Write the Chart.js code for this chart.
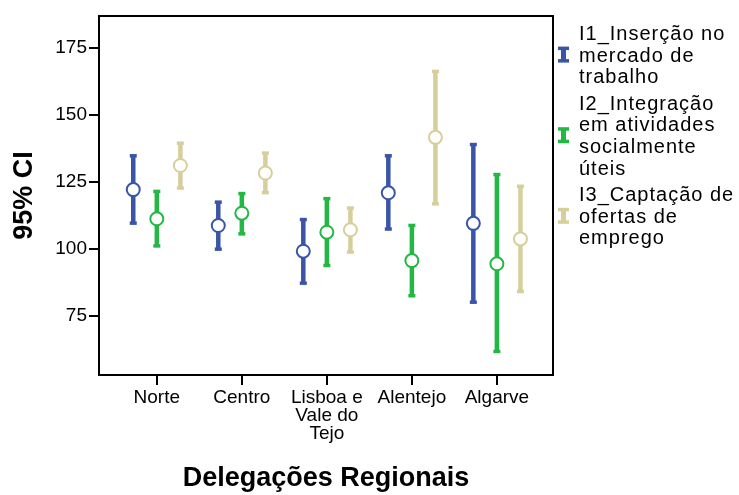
<!DOCTYPE html>
<html>
<head>
<meta charset="utf-8">
<script src="https://cdn.jsdelivr.net/npm/chart.js@4"></script>
<style>
  body { margin: 0; background: #fff; }
</style>
</head>
<body>
<canvas id="ciChart" width="739" height="495"></canvas>
<script>
const regions = ["Norte", "Centro", ["Lisboa e", "Vale do", "Tejo"], "Alentejo", "Algarve"];
const yTicks = [75, 100, 125, 150, 175];

// I1_Inserção no mercado de trabalho
const i1Mean = [122.2, 108.8, 99.2, 121.0, 109.6];
const i1Lo   = [109.4, 99.7, 87.0, 107.2, 79.9];
const i1Hi   = [135.1, 117.8, 111.3, 135.1, 139.3];
// I2_Integração em atividades socialmente úteis
const i2Mean = [111.3, 113.4, 106.3, 95.7, 94.5];
const i2Lo   = [100.9, 105.4, 93.6, 82.3, 61.5];
const i2Hi   = [121.8, 121.0, 119.1, 109.1, 128.1];
// I3_Captação de ofertas de emprego
const i3Mean = [131.2, 128.4, 107.2, 141.7, 103.8];
const i3Lo   = [122.5, 120.8, 98.6, 116.6, 83.9];
const i3Hi   = [139.8, 136.1, 115.6, 166.6, 123.7];

const seriesNames = [
  ["I1_Inserção no", "mercado de", "trabalho"],
  ["I2_Integração", "em atividades", "socialmente", "úteis"],
  ["I3_Captação de", "ofertas de", "emprego"]
];
const colors = ["#3a55a8", "#23b744", "#d6cf9b"];
const offsets = [-0.277, 0, 0.277];
const FONT = "'Liberation Sans', Arial, sans-serif";

function makeSet(k, mean, lo, hi) {
  return {
    label: seriesNames[k].join(" "),
    data: mean.map((m, j) => ({ x: j + offsets[k], y: m })),
    lo: lo,
    hi: hi,
    pointRadius: 6.5,
    pointBorderWidth: 2,
    pointBorderColor: colors[k],
    pointBackgroundColor: "#fff",
    showLine: false
  };
}

const errorBars = {
  id: "errorBars",
  beforeDatasetsDraw(chart) {
    const ctx = chart.ctx;
    const ys = chart.scales.y;
    chart.data.datasets.forEach((ds, i) => {
      const meta = chart.getDatasetMeta(i);
      ctx.save();
      ctx.strokeStyle = colors[i];
      ctx.fillStyle = colors[i];
      ctx.lineWidth = 4.5;
      meta.data.forEach((pt, j) => {
        const top = ys.getPixelForValue(ds.hi[j]);
        const bot = ys.getPixelForValue(ds.lo[j]);
        ctx.beginPath();
        ctx.moveTo(pt.x, top);
        ctx.lineTo(pt.x, bot);
        ctx.stroke();
        ctx.fillRect(pt.x - 3.5, top - 1, 7, 3.5);
        ctx.fillRect(pt.x - 3.5, bot - 2.5, 7, 3.5);
      });
      ctx.restore();
    });
  },
  afterDraw(chart) {
    const ctx = chart.ctx;
    const a = chart.chartArea;
    ctx.save();
    ctx.strokeStyle = "#000";
    ctx.lineWidth = 2;
    ctx.strokeRect(a.left, a.top, a.right - a.left, a.bottom - a.top);

    // legend
    ctx.font = "20px " + FONT;
    ctx.letterSpacing = "1px";
    ctx.textBaseline = "alphabetic";
    const lineH = 21.6;
    let base = 40;
    seriesNames.forEach((lines, k) => {
      lines.forEach((t, n) => {
        ctx.fillStyle = "#000";
        ctx.fillText(t, 579, base + n * lineH);
      });
      const mid = base - 7 + (lines.length - 1) * lineH / 2;
      ctx.fillStyle = colors[k];
      ctx.fillRect(561, mid - 7, 5, 14);
      ctx.fillRect(558, mid - 8, 11, 3.5);
      ctx.fillRect(558, mid + 4.5, 11, 3.5);
      base += lines.length * lineH + 5;
    });
    ctx.restore();
  }
};

new Chart("ciChart", {
  type: "scatter",
  data: {
    datasets: [
      makeSet(0, i1Mean, i1Lo, i1Hi),
      makeSet(1, i2Mean, i2Lo, i2Hi),
      makeSet(2, i3Mean, i3Lo, i3Hi)
    ]
  },
  options: {
    responsive: false,
    animation: false,
    layout: { padding: { top: 16, right: 186, left: 0, bottom: 0 } },
    plugins: {
      legend: { display: false },
      tooltip: { enabled: false }
    },
    scales: {
      x: {
        type: "linear",
        min: -0.68,
        max: 4.66,
        afterBuildTicks: (s) => { s.ticks = regions.map((r, j) => ({ value: j })); },
        afterFit: (s) => { s.height = 120; },
        grid: { drawOnChartArea: false, drawTicks: true, tickLength: 10, color: "#000", lineWidth: 2 },
        border: { display: true, color: "#000", width: 2 },
        ticks: {
          autoSkip: false,
          maxRotation: 0,
          padding: 4,
          color: "#000",
          font: { family: FONT, size: 19, lineHeight: 0.95 },
          callback: (v) => regions[v]
        },
        title: {
          display: true,
          text: "Delegações Regionais",
          color: "#000",
          padding: 0,
          font: { family: FONT, size: 27, weight: "bold" }
        }
      },
      y: {
        min: 53,
        max: 187,
        afterBuildTicks: (s) => { s.ticks = yTicks.map(v => ({ value: v })); },
        afterFit: (s) => { s.width = 99; },
        grid: { drawOnChartArea: false, drawTicks: true, tickLength: 10, color: "#000", lineWidth: 2 },
        border: { display: true, color: "#000", width: 2 },
        ticks: {
          padding: 2,
          color: "#000",
          font: { family: FONT, size: 19 }
        },
        title: {
          display: true,
          text: "95% CI",
          color: "#000",
          padding: { top: 8, bottom: 0 },
          font: { family: FONT, size: 27, weight: "bold" }
        }
      }
    }
  },
  plugins: [errorBars]
});
</script>
</body>
</html>
